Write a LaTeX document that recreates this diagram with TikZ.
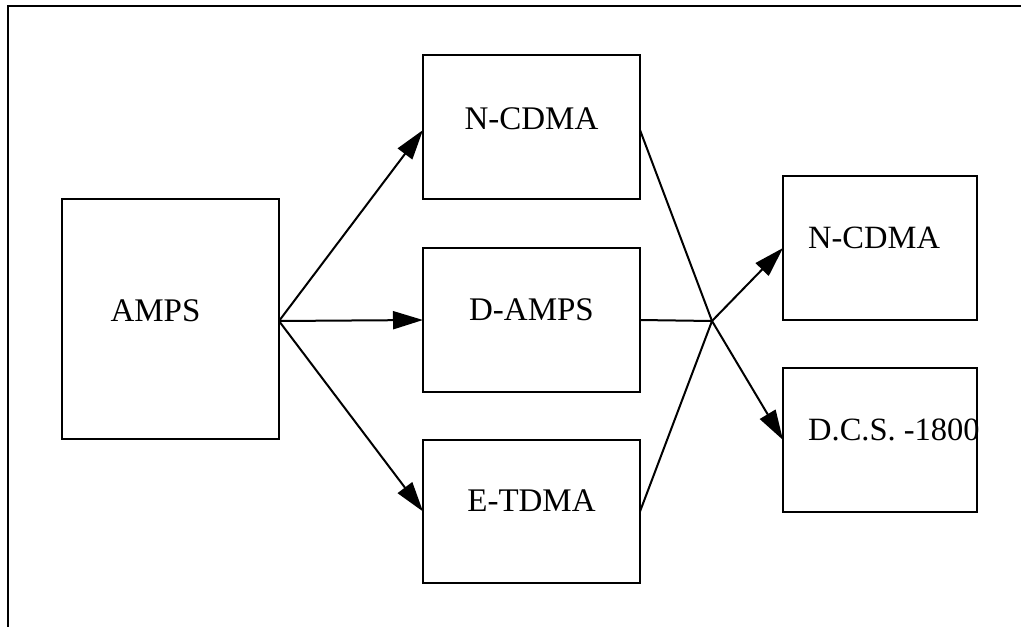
\documentclass[tikz,border=0pt]{standalone}
\usepackage{fontspec}
\setmainfont{Liberation Serif}
\usetikzlibrary{arrows.meta}
\begin{document}
\begin{tikzpicture}[x=1pt,y=-1pt,
  box/.style={draw,line width=2pt,inner sep=0pt,outer sep=0pt},
  lbl/.style={inner sep=0pt,anchor=base,font=\fontsize{33pt}{39pt}\selectfont},
  lbll/.style={inner sep=0pt,anchor=base west,font=\fontsize{32.5pt}{39pt}\selectfont},
  conn/.style={line width=2pt},
  arr/.style={line width=2pt,-{Triangle[length=30pt,width=18pt]}}]
\useasboundingbox (0,0) rectangle (1021,627);
% frame (top and left sides only)
\draw[line width=2pt] (8,627) -- (8,6) -- (1021,6);
% boxes
\node[box,minimum width=217pt,minimum height=240pt] (amps) at (170.5,319) {};
\node[box,minimum width=217pt,minimum height=144pt] (ncdma1) at (531.5,127) {};
\node[box,minimum width=217pt,minimum height=144pt] (damps) at (531.5,320) {};
\node[box,minimum width=217pt,minimum height=143pt] (etdma) at (531.5,511.5) {};
\node[box,minimum width=194pt,minimum height=144pt] (ncdma2) at (880,248) {};
\node[box,minimum width=194pt,minimum height=144pt] (dcs) at (880,440) {};
% labels
\node[lbl] (ampsT) at (155.5,321) {AMPS};
\node[lbl] (ncdma1T) at (531.5,129) {N-CDMA};
\node[lbl] (dampsT) at (531.5,320) {D-AMPS};
\node[lbl] (etdmaT) at (531.5,511) {E-TDMA};
\node[lbll] (ncdma2T) at (808,248) {N-CDMA};
\node[lbll] (dcsT) at (808,440) {D.C.S. -1800};
% connectors
\coordinate (src) at (amps.east |- 0,321);
\coordinate (jn) at (712,321);
\draw[arr] (src) -- ([yshift=-3pt]ncdma1.west);
\draw[arr] (src) -- (damps.west);
\draw[arr] (src) -- (etdma.west);
\draw[conn] ([yshift=-3pt]ncdma1.east) -- (jn);
\draw[conn] (damps.east) -- (jn);
\draw[conn] (etdma.east) -- (jn);
\draw[arr] (jn) -- (ncdma2.west);
\draw[arr] (jn) -- (dcs.west);
\end{tikzpicture}
\end{document}
